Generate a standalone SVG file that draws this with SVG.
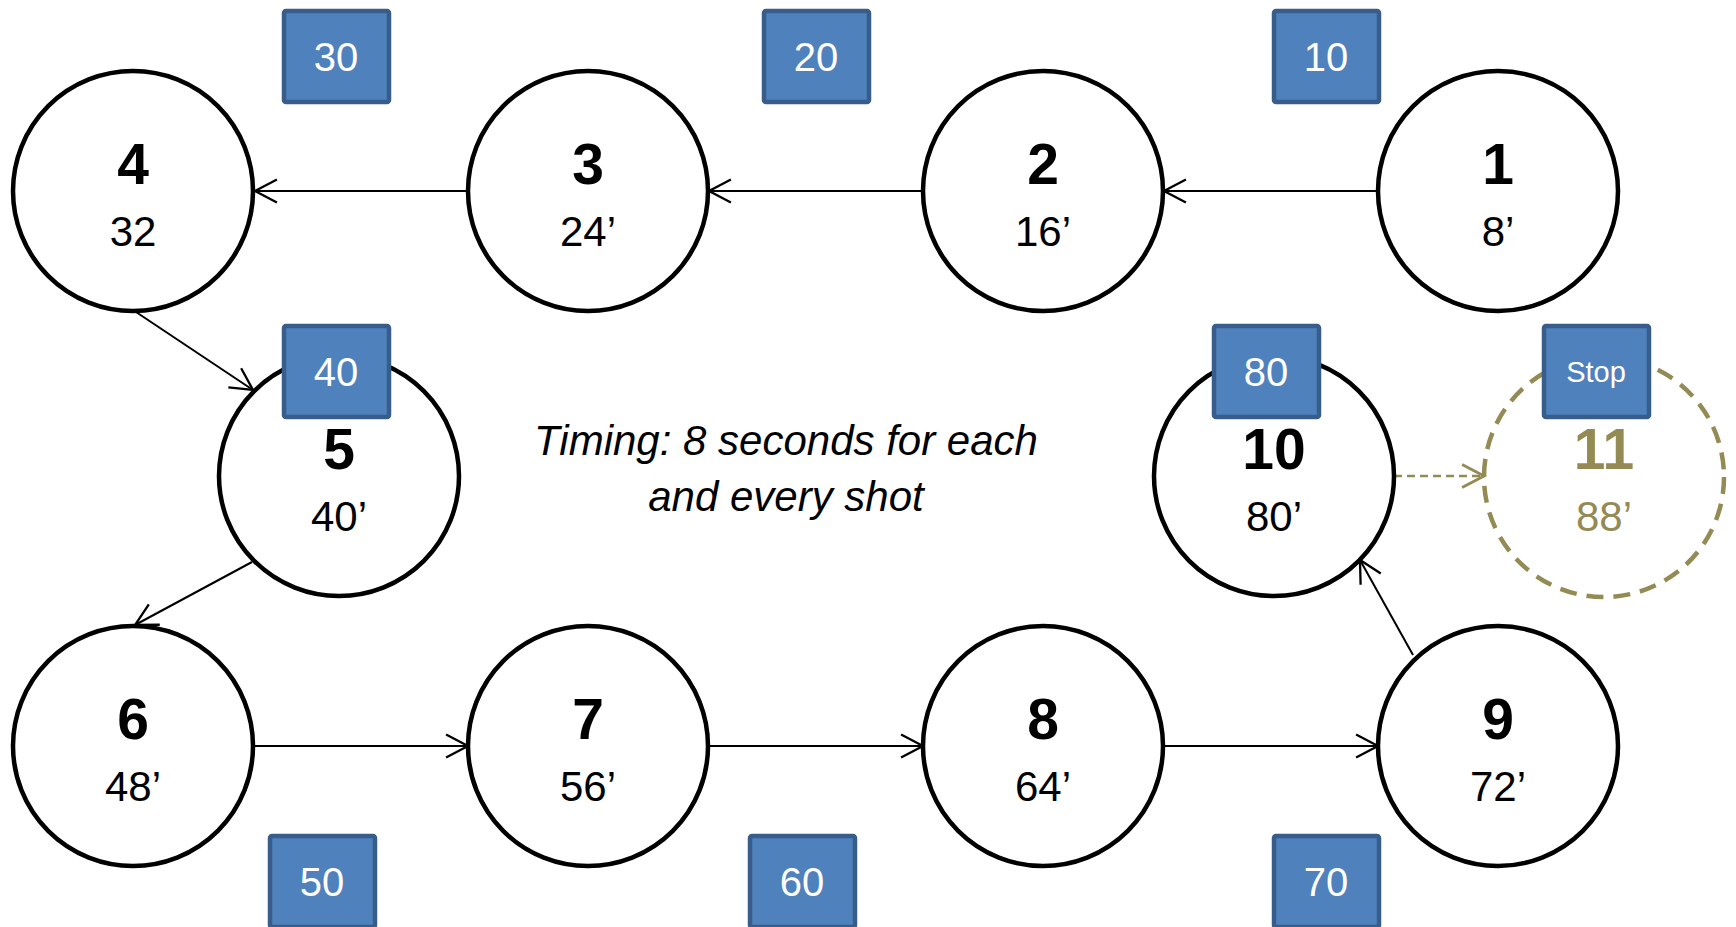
<svg xmlns="http://www.w3.org/2000/svg" width="1736" height="927" viewBox="0 0 1736 927">
<style>
.c{fill:#fff;stroke:#000;stroke-width:4.5}
.cd{fill:none;stroke:#948A54;stroke-width:4.5;stroke-dasharray:17 10}
.n{font-family:"Liberation Sans",Arial,sans-serif;font-weight:bold;font-size:57px;text-anchor:middle;fill:#000}
.t{font-family:"Liberation Sans",Arial,sans-serif;font-size:42px;text-anchor:middle;fill:#000}
.ol{fill:#948A54}
.b{fill:#4F81BD;stroke:#385D8A;stroke-width:4.5}
.bt{font-family:"Liberation Sans",Arial,sans-serif;font-size:40px;text-anchor:middle;fill:#fff}
.e{stroke:#000;stroke-width:2;fill:none}
.ed{stroke:#948A54;stroke-width:2.5;fill:none;stroke-dasharray:8 5}
.cap{font-family:"Liberation Sans",Arial,sans-serif;font-style:italic;font-size:42px;text-anchor:middle;fill:#000}
</style>
<defs>
<marker id="ah" markerUnits="userSpaceOnUse" markerWidth="30" markerHeight="30" viewBox="-22 -12 26 24" refX="0" refY="0" orient="auto">
<path d="M-19,-10 L0,0 L-19,10" fill="none" stroke="#000" stroke-width="2"/>
</marker>
<marker id="ahd" markerUnits="userSpaceOnUse" markerWidth="30" markerHeight="30" viewBox="-22 -12 26 24" refX="0" refY="0" orient="auto">
<path d="M-19,-10 L0,0 L-19,10" fill="none" stroke="#948A54" stroke-width="2.5"/>
</marker>
</defs>
<rect width="1736" height="927" fill="#fff"/>
<g id="connectors">
<line class="e" x1="1378" y1="191" x2="1164" y2="191" marker-end="url(#ah)"/>
<line class="e" x1="923" y1="191" x2="709" y2="191" marker-end="url(#ah)"/>
<line class="e" x1="468" y1="191" x2="255" y2="191" marker-end="url(#ah)"/>
<line class="e" x1="136" y1="312" x2="253" y2="390" marker-end="url(#ah)"/>
<line class="e" x1="252" y1="562" x2="135" y2="625" marker-end="url(#ah)"/>
<line class="e" x1="255" y1="746" x2="468" y2="746" marker-end="url(#ah)"/>
<line class="e" x1="709" y1="746" x2="923" y2="746" marker-end="url(#ah)"/>
<line class="e" x1="1164" y1="746" x2="1378" y2="746" marker-end="url(#ah)"/>
<line class="e" x1="1413" y1="655" x2="1360" y2="560" marker-end="url(#ah)"/>
<line class="ed" x1="1394" y1="476" x2="1484" y2="476" marker-end="url(#ahd)"/>
</g>
<g id="node1"><circle class="c" cx="1498" cy="191" r="120"/><text class="n" x="1498" y="184">1</text><text class="t" x="1498" y="246">8’</text></g>
<g id="node2"><circle class="c" cx="1043" cy="191" r="120"/><text class="n" x="1043" y="184">2</text><text class="t" x="1043" y="246">16’</text></g>
<g id="node3"><circle class="c" cx="588" cy="191" r="120"/><text class="n" x="588" y="184">3</text><text class="t" x="588" y="246">24’</text></g>
<g id="node4"><circle class="c" cx="133" cy="191" r="120"/><text class="n" x="133" y="184">4</text><text class="t" x="133" y="246">32</text></g>
<g id="node5"><circle class="c" cx="339" cy="476" r="120"/><text class="n" x="339" y="469">5</text><text class="t" x="339" y="531">40’</text></g>
<g id="node6"><circle class="c" cx="133" cy="746" r="120"/><text class="n" x="133" y="739">6</text><text class="t" x="133" y="801">48’</text></g>
<g id="node7"><circle class="c" cx="588" cy="746" r="120"/><text class="n" x="588" y="739">7</text><text class="t" x="588" y="801">56’</text></g>
<g id="node8"><circle class="c" cx="1043" cy="746" r="120"/><text class="n" x="1043" y="739">8</text><text class="t" x="1043" y="801">64’</text></g>
<g id="node9"><circle class="c" cx="1498" cy="746" r="120"/><text class="n" x="1498" y="739">9</text><text class="t" x="1498" y="801">72’</text></g>
<g id="node10"><circle class="c" cx="1274" cy="476" r="120"/><text class="n" x="1274" y="469">10</text><text class="t" x="1274" y="531">80’</text></g>
<g id="node11"><circle class="cd" cx="1604" cy="477" r="120"/><text class="n ol" x="1604" y="469">11</text><text class="t ol" x="1604" y="531">88’</text></g>
<g id="caption"><text class="cap" x="786" y="455">Timing: 8 seconds for each</text><text class="cap" x="786" y="511">and every shot</text></g>
<g id="box10"><rect class="b" x="1274" y="11" width="105" height="91" rx="2"/><text class="bt" x="1326" y="71">10</text></g>
<g id="box20"><rect class="b" x="764" y="11" width="105" height="91" rx="2"/><text class="bt" x="816" y="71">20</text></g>
<g id="box30"><rect class="b" x="284" y="11" width="105" height="91" rx="2"/><text class="bt" x="336" y="71">30</text></g>
<g id="box40"><rect class="b" x="284" y="326" width="105" height="91" rx="2"/><text class="bt" x="336" y="386">40</text></g>
<g id="box50"><rect class="b" x="270" y="836" width="105" height="91" rx="2"/><text class="bt" x="322" y="896">50</text></g>
<g id="box60"><rect class="b" x="750" y="836" width="105" height="91" rx="2"/><text class="bt" x="802" y="896">60</text></g>
<g id="box70"><rect class="b" x="1274" y="836" width="105" height="91" rx="2"/><text class="bt" x="1326" y="896">70</text></g>
<g id="box80"><rect class="b" x="1214" y="326" width="105" height="91" rx="2"/><text class="bt" x="1266" y="386">80</text></g>
<g id="boxStop"><rect class="b" x="1544" y="326" width="105" height="91" rx="2"/><text class="bt" x="1596" y="382" style="font-size:29px">Stop</text></g>
</svg>
